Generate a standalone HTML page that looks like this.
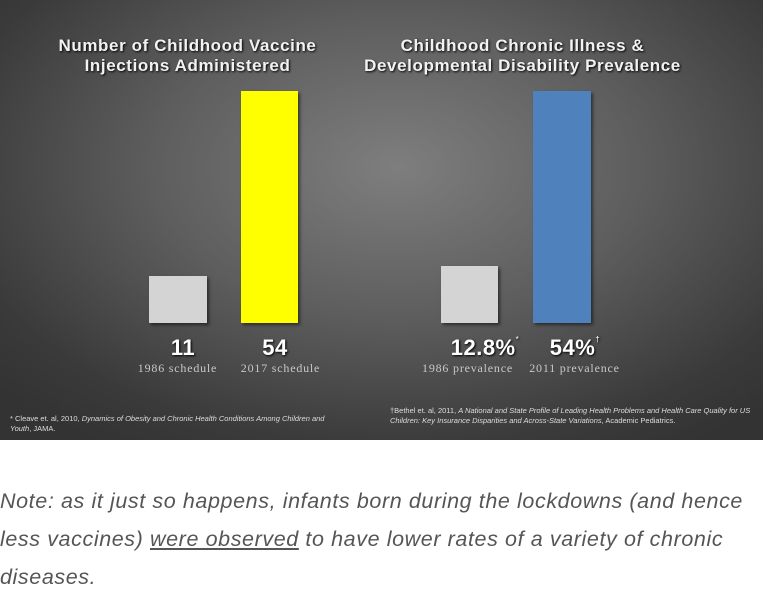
<!DOCTYPE html>
<html><head><meta charset="utf-8"><style>
body{margin:0;width:766px;height:591px;background:#fff;position:relative;overflow:hidden;font-family:"Liberation Sans",sans-serif}
#img{position:absolute;left:0;top:0;width:763px;height:440px;background:radial-gradient(ellipse 70% 75% at 52% 38%,#7e7e7e 0%,#5e5e5e 45%,#3a3a3a 85%,#333 100%)}
.t{position:absolute;color:#f2f2f2;font-weight:bold;text-align:center;font-size:17px;letter-spacing:0.6px;line-height:20px;text-shadow:1px 1px 2px #000;white-space:nowrap}
.bar{position:absolute;box-shadow:2px 2px 3px rgba(0,0,0,.5)}
.n{position:absolute;color:#fff;font-weight:bold;font-size:22px;text-align:center;text-shadow:1px 1px 2px #000;letter-spacing:0.5px}
.l{position:absolute;color:#c8c8c8;font-size:12px;font-family:"Liberation Serif",serif;text-align:center;letter-spacing:0.8px;white-space:nowrap}
.f{position:absolute;color:#ddd;font-size:7.5px;line-height:10px}
.note{position:absolute;left:0;font-style:italic;color:#555;font-size:21.5px;letter-spacing:0.6px;white-space:nowrap}
</style></head><body>
<div id="img">
<div class="t" style="left:20px;width:335px;top:36px">Number of Childhood Vaccine<br>Injections Administered</div>
<div class="t" style="left:340px;width:365px;top:36px">Childhood Chronic Illness &amp;<br>Developmental Disability Prevalence</div>
<div class="bar" style="left:149px;top:276px;width:58px;height:47px;background:#d4d4d4"></div>
<div class="bar" style="left:241px;top:91px;width:57px;height:232px;background:#ffff00"></div>
<div class="bar" style="left:441px;top:266px;width:57px;height:57px;background:#d4d4d4"></div>
<div class="bar" style="left:533px;top:91px;width:58px;height:232px;background:#4f81bd"></div>
<div class="n" style="left:148px;width:70px;top:335px">11</div>
<div class="n" style="left:240px;width:70px;top:335px">54</div>
<div class="n" style="left:435px;width:100px;top:335px">12.8%<sup style="font-size:8px;font-weight:normal;vertical-align:top">*</sup></div>
<div class="n" style="left:540px;width:70px;top:335px">54%<sup style="font-size:8px;font-weight:normal;vertical-align:top">†</sup></div>
<div class="l" style="left:125px;width:105px;top:361px">1986 schedule</div>
<div class="l" style="left:228px;width:105px;top:361px">2017 schedule</div>
<div class="l" style="left:410px;width:115px;top:361px">1986 prevalence</div>
<div class="l" style="left:517px;width:115px;top:361px">2011 prevalence</div>
<div class="f" style="left:10px;top:414px;width:330px">* Cleave et. al, 2010, <i>Dynamics of Obesity and Chronic Health Conditions Among Children and Youth</i>, JAMA.</div>
<div class="f" style="left:390px;top:406px;width:372px">†Bethel et. al, 2011, <i>A National and State Profile of Leading Health Problems and Health Care Quality for US Children: Key Insurance Disparities and Across-State Variations</i>, Academic Pediatrics.</div>
</div>
<div class="note" style="top:489px">Note: as it just so happens, infants born during the lockdowns (and hence</div>
<div class="note" style="top:527px">less vaccines) <span style="text-decoration:underline">were observed</span> to have lower rates of a variety of chronic</div>
<div class="note" style="top:565px">diseases.</div>
</body></html>
